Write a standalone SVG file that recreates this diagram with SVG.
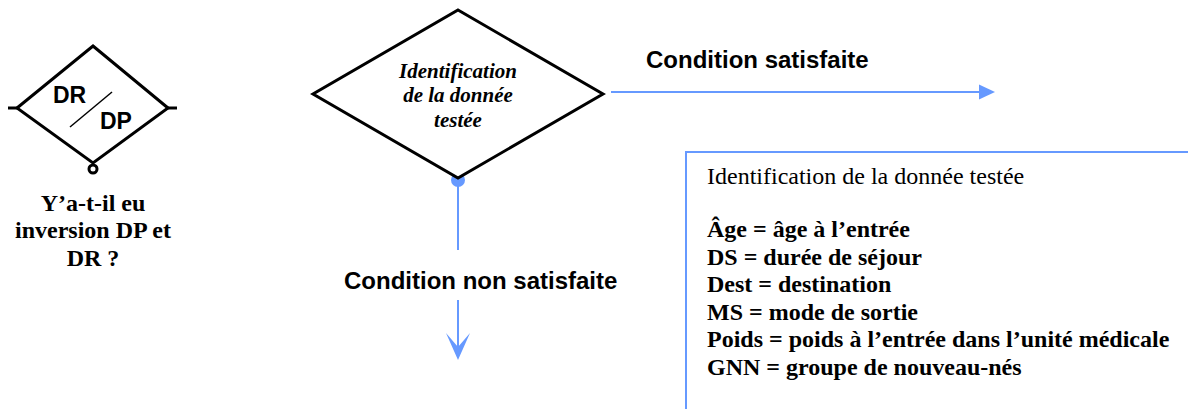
<svg xmlns="http://www.w3.org/2000/svg" width="1188" height="409" viewBox="0 0 1188 409">
<style>
.shape{fill:#ffffff;stroke:#000000;stroke-width:3;stroke-linejoin:miter}
.blue{stroke:#6699ff;stroke-width:2;fill:none}
.bluefill{fill:#6699ff;stroke:none}
.lbl{font-family:"Liberation Sans",Arial,sans-serif;font-weight:bold;font-size:24px;fill:#000}
.dr{font-family:"Liberation Sans",Arial,sans-serif;font-weight:bold;font-size:23px;fill:#000}
.tb{font-family:"Liberation Serif","Times New Roman",serif;font-weight:bold;font-size:24px;fill:#000}
.tr{font-family:"Liberation Serif","Times New Roman",serif;font-size:24px;fill:#000}
.ti{font-family:"Liberation Serif","Times New Roman",serif;font-weight:bold;font-style:italic;font-size:21px;fill:#000}
</style>
<rect x="0" y="0" width="1188" height="409" fill="#ffffff"/>
<g id="connectors">
  <circle cx="458" cy="180" r="7" class="bluefill"/>
  <line x1="458" y1="180" x2="458" y2="250" class="blue"/>
  <line x1="458" y1="300" x2="458" y2="350" class="blue"/>
  <polygon points="458,360 446,333 458,347 470,333" class="bluefill"/>
  <line x1="611" y1="92" x2="981" y2="92" class="blue"/>
  <polygon points="995,92 979,84.5 979,99.5" class="bluefill"/>
  <text x="646" y="68" class="lbl">Condition satisfaite</text>
  <text x="344" y="289" class="lbl">Condition non satisfaite</text>
</g>
<g id="node-drdp">
  <line x1="8" y1="108" x2="17" y2="108" stroke="#000" stroke-width="3"/>
  <line x1="168" y1="108" x2="177" y2="108" stroke="#000" stroke-width="3"/>
  <polygon points="93,46 168,108 93,163 17,108" class="shape"/>
  <circle cx="93" cy="169" r="4" fill="#fff" stroke="#000" stroke-width="3"/>
  <text x="53" y="103" class="dr">DR</text>
  <line x1="70" y1="127" x2="112" y2="92" stroke="#000" stroke-width="1.5"/>
  <text x="100" y="129" class="dr">DP</text>
  <text x="93" text-anchor="middle" class="tb"><tspan x="93" y="211">Y’a-t-il eu</tspan><tspan x="93" y="238">inversion DP et</tspan><tspan x="93" y="266">DR ?</tspan></text>
</g>
<g id="node-identification">
  <polygon points="458,10 603,94 458,178 313,94" class="shape"/>
  <text text-anchor="middle" class="ti"><tspan x="458" y="78">Identification</tspan><tspan x="458" y="102">de la donnée</tspan><tspan x="458" y="127">testée</tspan></text>
</g>
<g id="node-legend">
  <polyline points="686,409 686,152 1188,152" class="blue"/>
  <text x="707" y="184" class="tr">Identification de la donnée testée</text>
  <text x="707" y="237" class="tb">Âge = âge à l’entrée</text>
  <text x="707" y="264.5" class="tb">DS = durée de séjour</text>
  <text x="707" y="292" class="tb">Dest = destination</text>
  <text x="707" y="319.5" class="tb">MS = mode de sortie</text>
  <text x="707" y="347" class="tb">Poids = poids à l’entrée dans l’unité médicale</text>
  <text x="707" y="374.5" class="tb">GNN = groupe de nouveau-nés</text>
</g>
</svg>
